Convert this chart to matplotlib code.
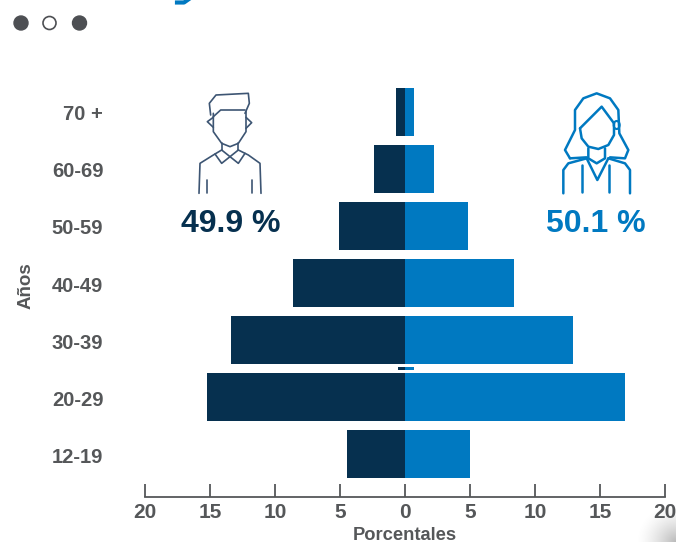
import numpy as np
import matplotlib
matplotlib.use("Agg")
import matplotlib.pyplot as plt
from matplotlib.patches import Circle, Ellipse
from matplotlib.transforms import ScaledTranslation

plt.rcParams['font.family'] = ['Liberation Sans', 'DejaVu Sans']

W, H = 676, 542
NAVY = '#06304f'
BLUE = '#0079c1'
GREY = '#555759'

age_groups = ['12-19', '20-29', '30-39', '40-49', '50-59', '60-69', '70 +']
men = [4.5, 15.2, 13.4, 8.6, 5.1, 2.4, 0.7]
women = [5.0, 16.9, 12.9, 8.4, 4.85, 2.2, 0.7]
tick_vals = [-20, -15, -10, -5, 0, 5, 10, 15, 20]
men_total = '49.9 %'
women_total = '50.1 %'

# small stray mark between the 20-29 and 30-39 bars
stray_pos = 1.5
stray_men = 0.55
stray_women = 0.7

fig = plt.figure(figsize=(W / 100, H / 100), dpi=100)

# overlay in pixel coordinates for the icons and the decoration
bg = fig.add_axes([0, 0, 1, 1], zorder=0)
bg.set_xlim(0, W)
bg.set_ylim(H, 0)
bg.axis('off')

# main pyramid
left, right, top, bottom = 145, 665, 60, 497
ax = fig.add_axes([left / W, 1 - bottom / H, (right - left) / W, (bottom - top) / H], zorder=1)
ax.patch.set_alpha(0)
pos = np.arange(len(age_groups))
ax.barh(pos, -np.array(men), height=0.85, color=NAVY)
ax.barh(pos, women, height=0.85, color=BLUE)
ax.barh([stray_pos], [-stray_men], height=0.05, color=NAVY)
ax.barh([stray_pos], [stray_women], height=0.05, color=BLUE)
ax.set_xlim(-20, 20)
ax.set_ylim(-0.754, 6.912)

for s in ['top', 'right', 'left']:
    ax.spines[s].set_visible(False)
ax.spines['bottom'].set_color(GREY)
ax.spines['bottom'].set_linewidth(1.3)

ax.set_xticks(tick_vals)
ax.set_xticklabels([str(abs(v)) for v in tick_vals], fontsize=15, fontweight='bold', color=GREY)
ax.tick_params(axis='x', direction='in', length=9.5, width=1.3, color=GREY, pad=4.5)
ax.set_yticks(pos)
ax.set_yticklabels(age_groups, fontsize=14.5, fontweight='bold', color=GREY)
ax.tick_params(axis='y', length=0, pad=30)
for lab in ax.get_yticklabels():
    lab.set_transform(lab.get_transform() + ScaledTranslation(0, -0.01, fig.dpi_scale_trans))
for lab in ax.get_xticklabels() + ax.get_yticklabels():
    lab.set_clip_on(False)

bg.text(405, 535, 'Porcentales', ha='center', va='center', fontsize=13.2, fontweight='bold', color=GREY)
bg.text(26, 286, 'Años', ha='center', va='center', rotation=90, fontsize=13.5, fontweight='bold', color=GREY)

bg.text(231, 224, men_total, ha='center', va='center', fontsize=23, fontweight='bold', color=NAVY)
bg.text(596, 224, women_total, ha='center', va='center', fontsize=23, fontweight='bold', color=BLUE)

# three dots at the top left
bg.add_patch(Circle((21, 23), 7, color='#4d4f53'))
bg.add_patch(Circle((49.5, 23), 6.5, fc='white', ec='#4d4f53', lw=1.2))
bg.add_patch(Circle((79.5, 23), 7, color='#4d4f53'))

# tail of a letter from the title cut off above the picture
bg.plot([177, 184, 189], [2.5, 2.5, -1], color=BLUE, lw=3)


def icon(paths, x0, y0, color, lw):
    for p in paths:
        p = np.array(p, dtype=float)
        bg.plot(x0 + p[:, 0] / 3, y0 + p[:, 1] / 3, color=color, lw=lw,
                solid_capstyle='round', solid_joinstyle='round')


man = [
    [(632, 345), (628, 310), (648, 285), (745, 280), (748, 310), (735, 340)],
    [(640, 350), (662, 330), (735, 330)],
    [(640, 340), (640, 395), (665, 430), (690, 440), (715, 430), (738, 395), (738, 335)],
    [(640, 352), (622, 365), (640, 382)],
    [(738, 352), (755, 368), (738, 385)],
    [(665, 430), (665, 450)],
    [(715, 430), (715, 450)],
    [(597, 580), (600, 490), (640, 465), (665, 450), (690, 470), (715, 450), (745, 465), (780, 490), (783, 580)],
    [(645, 462), (665, 490), (690, 470), (715, 490), (735, 460)],
    [(622, 540), (622, 578)],
    [(755, 540), (755, 578)],
]
icon(man, 0, 0, '#3d5573', 1.2)

woman = [
    [(150, 265), (135, 240), (150, 210), (165, 180), (165, 120), (190, 85), (230, 70), (270, 85),
     (295, 120), (298, 190), (325, 240), (315, 265), (270, 262)],
    [(150, 265), (200, 262)],
    [(180, 175), (245, 110), (282, 160)],
    [(180, 175), (185, 205), (205, 230), (235, 237), (265, 225), (282, 195), (282, 160)],
    [(205, 235), (205, 265), (230, 280), (255, 265), (255, 235)],
    [(200, 265), (232, 330), (265, 265)],
    [(130, 370), (130, 300), (145, 280), (200, 265)],
    [(330, 370), (330, 300), (315, 280), (265, 265)],
    [(185, 285), (185, 365)],
    [(268, 285), (268, 365)],
]
icon(woman, 520, 70, BLUE, 1.8)
bg.add_patch(Ellipse((520 + 290 / 3, 70 + 165 / 3), 6, 8, fc='none', ec=BLUE, lw=1.5))

# grey shading in the bottom right corner
yy, xx = np.mgrid[505:542, 630:676]
d = np.clip(1 - np.hypot(xx - 676, yy - 542) / 40, 0, 1)
shade = np.zeros(d.shape + (4,))
shade[..., :3] = 0.6
shade[..., 3] = d ** 1.5 * 0.7
bg.imshow(shade, extent=(630, 676, 542, 505), aspect='auto', interpolation='bilinear', zorder=0)
bg.set_xlim(0, W)
bg.set_ylim(H, 0)

fig.savefig('out.png', dpi=100)
